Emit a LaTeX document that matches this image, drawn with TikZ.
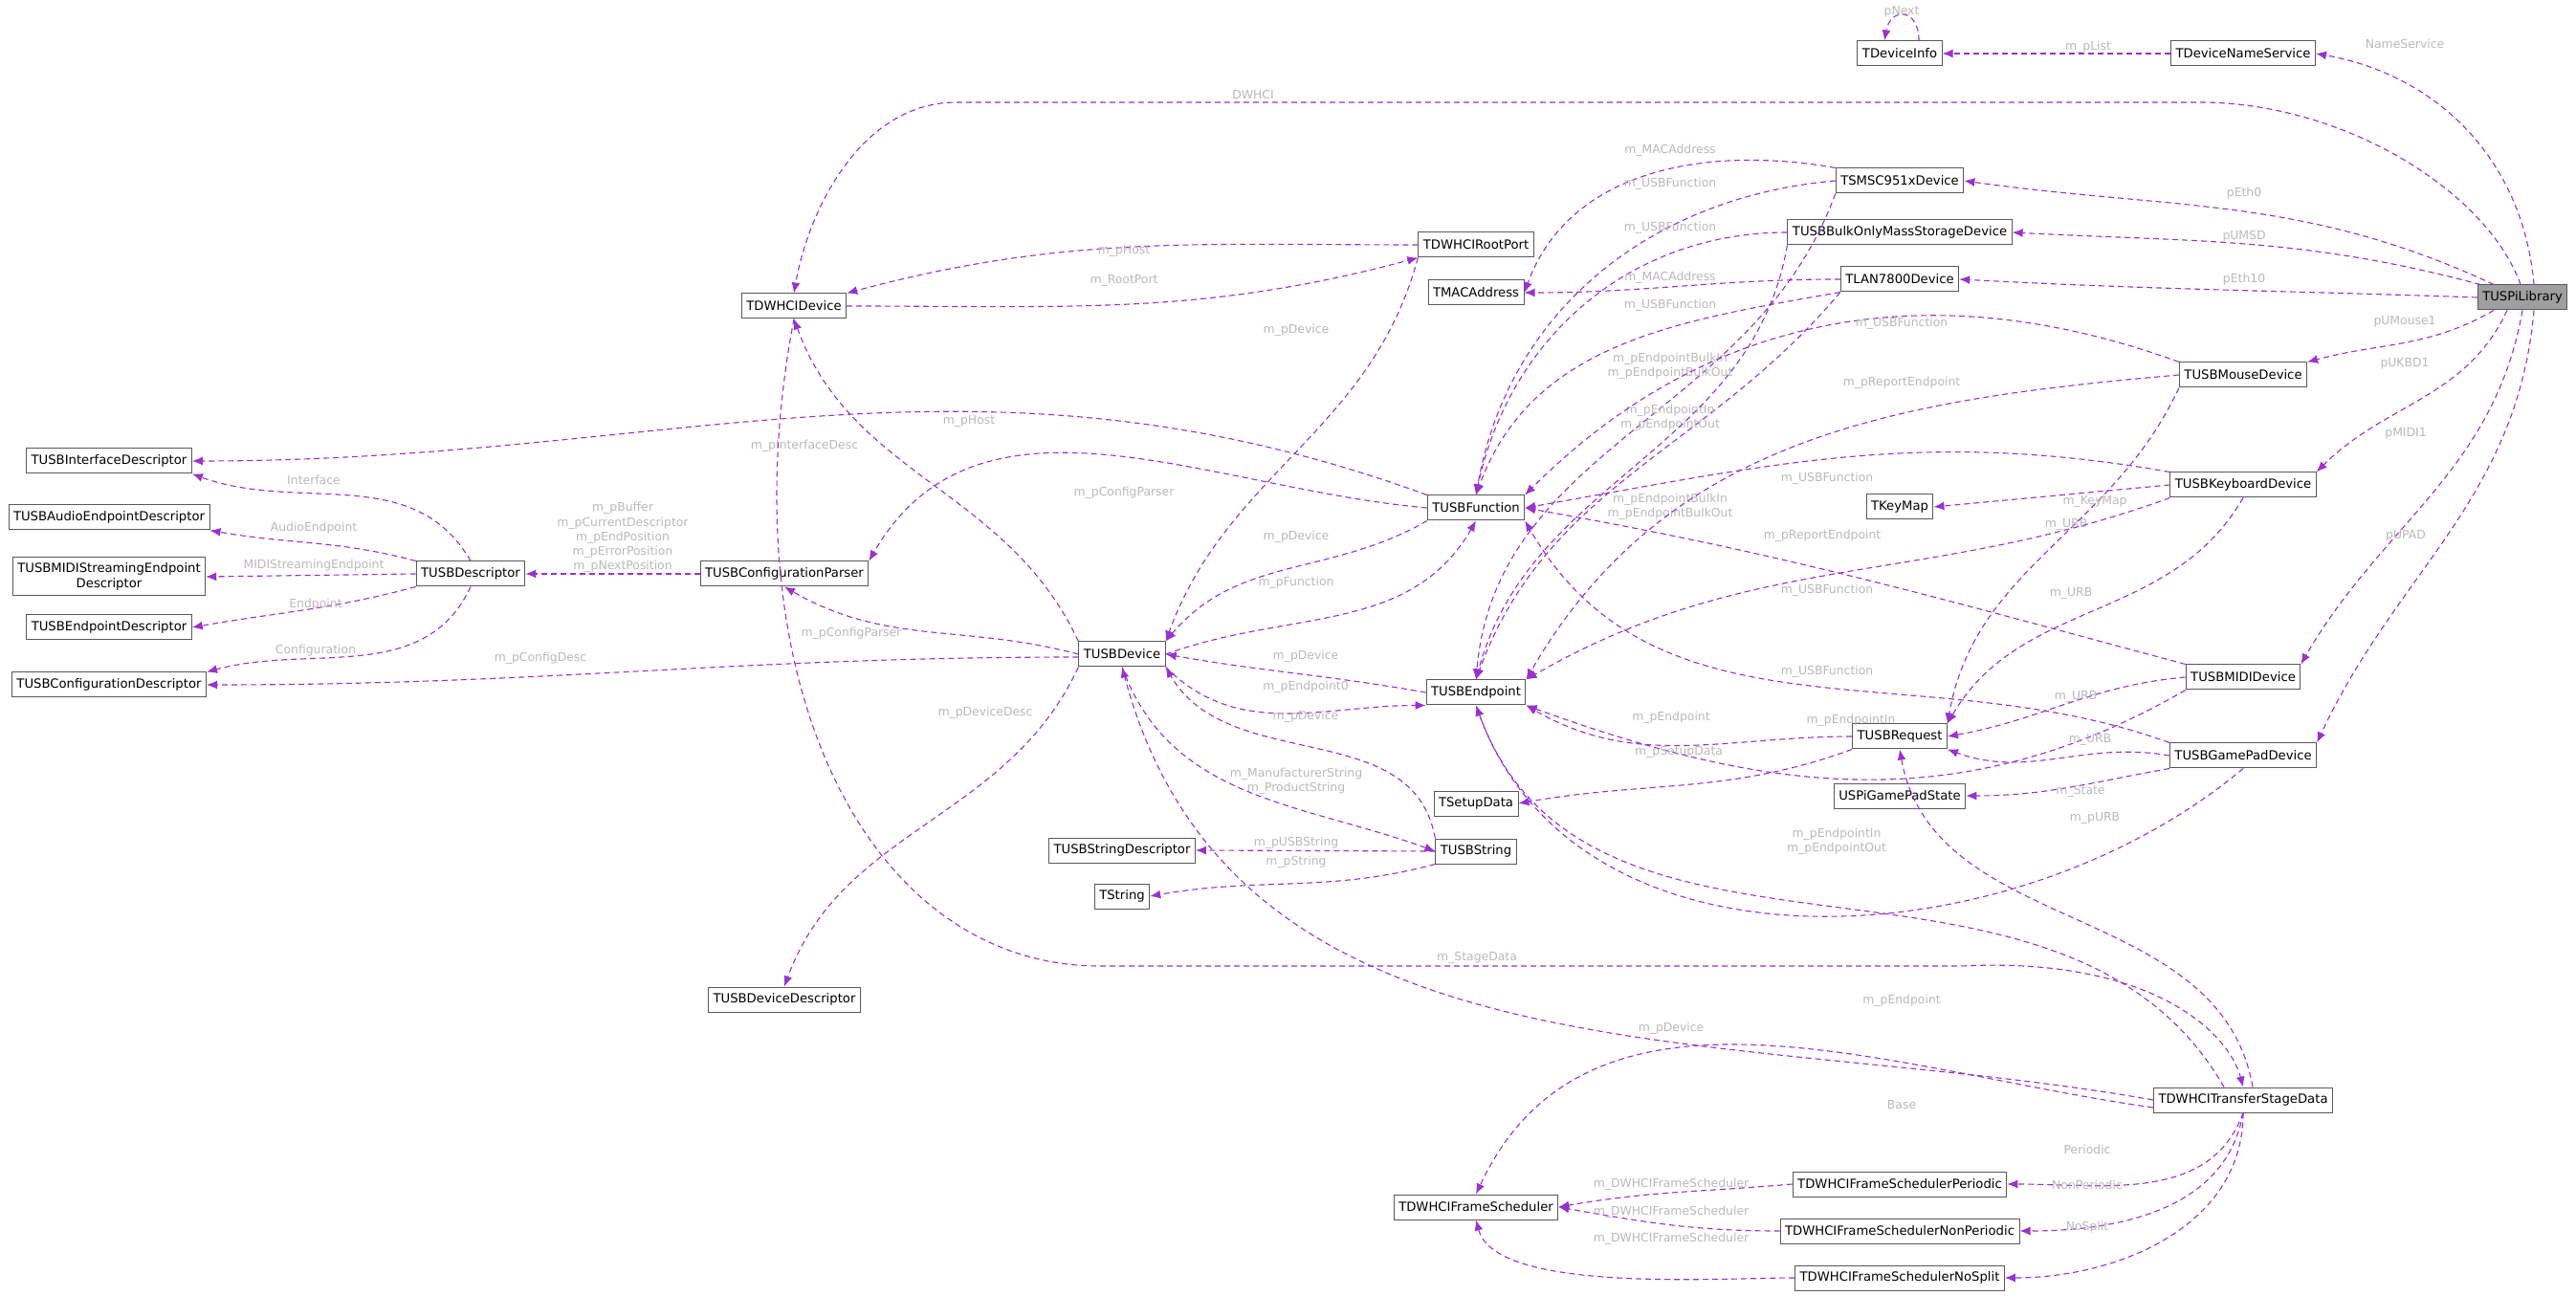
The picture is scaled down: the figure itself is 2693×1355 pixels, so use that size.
\documentclass[tikz,border=0pt]{standalone}
\usepackage{fontspec}
\setsansfont{DejaVu Sans}
\usetikzlibrary{arrows.meta}
\definecolor{relcol}{HTML}{9A32CD}
\begin{document}
\begin{tikzpicture}[x=0.25pt,y=-0.25pt,
    cls/.style={draw=gray!70!black,line width=0.25pt,fill=white,font=\sffamily\fontsize{3.3}{3.9}\selectfont,minimum height=6.5pt,inner xsep=1.25pt,inner ysep=0.5pt,align=center},
    rel/.style={draw=relcol,line width=0.28pt,dash pattern=on 1.5pt off 1pt,-{Latex[length=2.75pt,width=2.25pt]}},
    lbl/.style={font=\sffamily\fontsize{3.1}{3.8}\selectfont,text=gray!55,align=center}]
        \useasboundingbox (0,0) rectangle (2693,1355);
        % classes
        \node[cls,fill=gray!75] (lib) at (2637,311) {TUSPiLibrary};
        \node[cls] (dns) at (2345,56) {TDeviceNameService};
        \node[cls] (dinfo) at (1986,56) {TDeviceInfo};
        \node[cls] (smsc) at (1986,189) {TSMSC951xDevice};
        \node[cls] (bulk) at (1986,243) {TUSBBulkOnlyMassStorageDevice};
        \node[cls] (lan) at (1986,292) {TLAN7800Device};
        \node[cls] (mouse) at (2345,392) {TUSBMouseDevice};
        \node[cls] (kbd) at (2345,507) {TUSBKeyboardDevice};
        \node[cls] (keymap) at (1986,530) {TKeyMap};
        \node[cls] (midi) at (2345,708) {TUSBMIDIDevice};
        \node[cls] (pad) at (2345,790) {TUSBGamePadDevice};
        \node[cls] (ureq) at (1986,770) {TUSBRequest};
        \node[cls] (gps) at (1986,832) {USPiGamePadState};
        \node[cls] (rp) at (1543,256) {TDWHCIRootPort};
        \node[cls] (mac) at (1543,306) {TMACAddress};
        \node[cls] (ufun) at (1543,531) {TUSBFunction};
        \node[cls] (uep) at (1543,724) {TUSBEndpoint};
        \node[cls] (setup) at (1543,840) {TSetupData};
        \node[cls] (ustr) at (1543,890) {TUSBString};
        \node[cls] (dwd) at (830,320) {TDWHCIDevice};
        \node[cls] (cparser) at (820,600) {TUSBConfigurationParser};
        \node[cls] (ddesc) at (820,1045) {TUSBDeviceDescriptor};
        \node[cls] (udev) at (1173,684) {TUSBDevice};
        \node[cls] (sdesc) at (1173,889) {TUSBStringDescriptor};
        \node[cls] (tstr) at (1173,937) {TString};
        \node[cls] (udesc) at (492,600) {TUSBDescriptor};
        \node[cls] (ifd) at (114,482) {TUSBInterfaceDescriptor};
        \node[cls] (aed) at (114,541) {TUSBAudioEndpointDescriptor};
        \node[cls,minimum height=10pt] (msd) at (114,603) {TUSBMIDIStreamingEndpoint\\Descriptor};
        \node[cls] (epd) at (114,656) {TUSBEndpointDescriptor};
        \node[cls] (cdesc) at (114,716) {TUSBConfigurationDescriptor};
        \node[cls] (tsd) at (2345,1150) {TDWHCITransferStageData};
        \node[cls] (fs) at (1543,1262) {TDWHCIFrameScheduler};
        \node[cls] (per) at (1986,1238) {TDWHCIFrameSchedulerPeriodic};
        \node[cls] (nper) at (1986,1287) {TDWHCIFrameSchedulerNonPeriodic};
        \node[cls] (nos) at (1986,1336) {TDWHCIFrameSchedulerNoSplit};
        % library members
        \draw[rel] ([xshift=3pt]lib.north) to[out=95,in=-10] (dns.east) node[lbl] at (2514,46) {NameService};
        \draw[rel] (dns.west) -- (dinfo.east) node[lbl] at (2183,49) {m\_pList};
        \draw[rel] ([xshift=5pt]dinfo.north) to[out=90,in=80,looseness=2.5] ([xshift=-4pt]dinfo.north) node[lbl] at (1988,12) {pNext};
        \draw[rel] ([xshift=-0.5pt]lib.north) .. controls (2600,200) and (2450,107) .. (2300,107) -- (1000,107) .. controls (900,107) and (845,220) .. (dwd.north) node[lbl] at (1310,99) {DWHCI};
        \draw[rel] ([xshift=-7.5pt]lib.north) to[out=155,in=-8] (smsc.east) node[lbl] at (2346,202) {pEth0};
        \draw[rel] ([xshift=-11pt]lib.north) to[out=165,in=-3] (bulk.east) node[lbl] at (2346,247) {pUMSD};
        \draw[rel] (lib.west) to[out=178,in=-3] (lan.east) node[lbl] at (2346,292) {pEth10};
        \draw[rel] ([xshift=-7.5pt]lib.south) to[out=-150,in=15] (mouse.north east) node[lbl] at (2514,336) {pUMouse1};
        \draw[rel] ([xshift=-4pt]lib.south) to[out=-115,in=45] (kbd.north east) node[lbl] at (2514,380) {pUKBD1};
        \draw[rel] (lib.south) to[out=-100,in=60] (midi.north east) node[lbl] at (2515,453) {pMIDI1};
        \draw[rel] ([xshift=3pt]lib.south) to[out=-95,in=65] (pad.north east) node[lbl] at (2515,560) {pUPAD};
        % host side
        \draw[rel] (rp.west) to[out=180,in=15] (dwd.north east) node[lbl] at (1175,262) {m\_pHost};
        \draw[rel] (dwd.east) to[out=0,in=195] (rp.south west) node[lbl] at (1175,293) {m\_RootPort};
        \draw[rel] (rp.south west) to[out=-105,in=70] (udev.north east) node[lbl] at (1355,345) {m\_pDevice};
        % device drivers
        \draw[rel] (smsc.north west) to[out=170,in=70] (mac.east) node[lbl] at (1746,157) {m\_MACAddress};
        \draw[rel] (smsc.west) to[out=185,in=80] (ufun.north) node[lbl] at (1746,192) {m\_USBFunction};
        \draw[rel] (bulk.west) to[out=180,in=78] (ufun.north) node[lbl] at (1746,238) {m\_USBFunction};
        \draw[rel] (lan.west) to[out=180,in=0] (mac.east) node[lbl] at (1746,290) {m\_MACAddress};
        \draw[rel] (lan.south west) to[out=190,in=70] (ufun.north) node[lbl] at (1746,319) {m\_USBFunction};
        \draw[rel] (smsc.south west) to[out=-110,in=85] (uep.north) node[lbl] at (1746,383) {m\_pEndpointBulkIn\\m\_pEndpointBulkOut};
        \draw[rel] (lan.south west) to[out=-130,in=70] (uep.north) node[lbl] at (1746,437) {m\_pEndpointIn\\m\_pEndpointOut};
        \draw[rel] (bulk.south west) to[out=-100,in=75] (uep.north) node[lbl] at (1746,530) {m\_pEndpointBulkIn\\m\_pEndpointBulkOut};
        \draw[rel] (mouse.north west) to[out=160,in=45] (ufun.north east) node[lbl] at (1988,338) {m\_USBFunction};
        \draw[rel] (mouse.west) to[out=185,in=60] (uep.north east) node[lbl] at (1988,400) {m\_pReportEndpoint};
        \draw[rel] (mouse.south west) to[out=-115,in=80] (ureq.north east) node[lbl] at (2160,548) {m\_URB};
        \draw[rel] (kbd.north west) to[out=170,in=10] (ufun.east) node[lbl] at (1910,500) {m\_USBFunction};
        \draw[rel] (kbd.west) -- (keymap.east) node[lbl] at (2190,524) {m\_KeyMap};
        \draw[rel] (kbd.south west) to[out=-160,in=30] (uep.north east) node[lbl] at (1905,560) {m\_pReportEndpoint};
        \draw[rel] (kbd.south) to[out=-120,in=60] (ureq.north east) node[lbl] at (2165,620) {m\_URB};
        \draw[rel] (midi.north west) to[out=165,in=-10] (ufun.east) node[lbl] at (1910,617) {m\_USBFunction};
        \draw[rel] (midi.west) to[out=185,in=10] (ureq.east) node[lbl] at (2170,728) {m\_URB};
        \draw[rel] (midi.south west) to[out=-150,in=-20] (uep.south east) node[lbl] at (1935,753) {m\_pEndpointIn};
        \draw[rel] (pad.north west) to[out=160,in=-60] (ufun.south east) node[lbl] at (1910,702) {m\_USBFunction};
        \draw[rel] (pad.west) to[out=170,in=-20] (ureq.south east) node[lbl] at (2185,773) {m\_URB};
        \draw[rel] (pad.south west) to[out=-170,in=0] (gps.east) node[lbl] at (2175,827) {m\_State};
        \draw[rel] (pad.south) to[out=-140,in=-70] (uep.south) node[lbl] at (1920,880) {m\_pEndpointIn\\m\_pEndpointOut};
        % usb core
        \draw[rel] (ufun.north west) to[out=160,in=0] (ifd.east) node[lbl] at (841,466) {m\_pInterfaceDesc};
        \draw[rel] (ufun.west) to[out=175,in=60] (cparser.north east) node[lbl] at (1175,515) {m\_pConfigParser};
        \draw[rel] (ufun.south west) to[out=-150,in=50] (udev.north east) node[lbl] at (1355,561) {m\_pDevice};
        \draw[rel] (udev.east) to[out=20,in=-120] (ufun.south) node[lbl] at (1355,609) {m\_pFunction};
        \draw[rel] (udesc.north) to[out=120,in=-20] (ifd.south east) node[lbl] at (328,502) {Interface};
        \draw[rel] (udesc.north west) to[out=165,in=-10] (aed.south east) node[lbl] at (328,552) {AudioEndpoint};
        \draw[rel] (udesc.west) -- (msd.east) node[lbl] at (328,591) {MIDIStreamingEndpoint};
        \draw[rel] (udesc.south west) to[out=-165,in=10] (epd.east) node[lbl] at (330,632) {Endpoint};
        \draw[rel] (udesc.south) to[out=-115,in=15] (cdesc.north east) node[lbl] at (330,680) {Configuration};
        \draw[rel] (cparser.west) -- (udesc.east) node[lbl] at (651,562) {m\_pBuffer\\m\_pCurrentDescriptor\\m\_pEndPosition\\m\_pErrorPosition\\m\_pNextPosition};
        \draw[rel] (udev.north west) to[out=115,in=-70] (dwd.south) node[lbl] at (1013,440) {m\_pHost};
        \draw[rel] (udev.west) to[out=165,in=-30] (cparser.south) node[lbl] at (890,662) {m\_pConfigParser};
        \draw[rel] ([yshift=-0.75pt]udev.west) to[out=180,in=0] (cdesc.east) node[lbl] at (565,688) {m\_pConfigDesc};
        \draw[rel] (udev.south west) to[out=-115,in=70] (ddesc.north) node[lbl] at (1030,745) {m\_pDeviceDesc};
        \draw[rel] (uep.west) to[out=170,in=-10] (udev.east) node[lbl] at (1365,686) {m\_pDevice};
        \draw[rel] (udev.south east) to[out=-45,in=180] (uep.south west) node[lbl] at (1365,718) {m\_pEndpoint0};
        \draw[rel] (ustr.north west) to[out=100,in=-60] (udev.south east) node[lbl] at (1365,749) {m\_pDevice};
        \draw[rel] (udev.south) to[out=-70,in=160] (ustr.west) node[lbl] at (1355,817) {m\_ManufacturerString\\m\_ProductString};
        \draw[rel] (ustr.west) -- (sdesc.east) node[lbl] at (1355,881) {m\_pUSBString};
        \draw[rel] (ustr.south west) to[out=-165,in=10] (tstr.east) node[lbl] at (1355,901) {m\_pString};
        \draw[rel] (ureq.west) to[out=180,in=-30] (uep.south east) node[lbl] at (1747,750) {m\_pEndpoint};
        \draw[rel] (ureq.south west) to[out=-160,in=10] (setup.east) node[lbl] at (1755,786) {m\_pSetupData};
        % transfer stage data
        \draw[rel] (dwd.south) .. controls (760,700) and (900,1010) .. (1150,1010) -- (2050,1010) .. controls (2250,1000) and (2330,1080) .. (tsd.north) node[lbl] at (1544,1001) {m\_StageData};
        \draw[rel] ([xshift=-5pt]tsd.north) to[out=120,in=-70] (uep.south) node[lbl] at (1988,1046) {m\_pEndpoint};
        \draw[rel] (tsd.west) to[out=170,in=-75] (udev.south) node[lbl] at (1747,1075) {m\_pDevice};
        \draw[rel] ([xshift=2.5pt]tsd.north) to[out=100,in=-80] (ureq.south) node[lbl] at (2190,855) {m\_pURB};
        \draw[rel] ([yshift=-2pt]tsd.west) to[out=172,in=65] (fs.north) node[lbl] at (1988,1155) {Base};
        \draw[rel] (tsd.south) to[out=-110,in=0] (per.east) node[lbl] at (2182,1202) {Periodic};
        \draw[rel] (tsd.south) to[out=-100,in=0] (nper.east) node[lbl] at (2182,1239) {NonPeriodic};
        \draw[rel] (tsd.south) to[out=-90,in=0] (nos.east) node[lbl] at (2182,1283) {NoSplit};
        \draw[rel] (per.west) to[out=185,in=10] (fs.east) node[lbl] at (1747,1238) {m\_DWHCIFrameScheduler};
        \draw[rel] (nper.west) to[out=180,in=-10] (fs.east) node[lbl] at (1747,1267) {m\_DWHCIFrameScheduler};
        \draw[rel] (nos.west) to[out=180,in=-75,looseness=0.6] (fs.south) node[lbl] at (1747,1295) {m\_DWHCIFrameScheduler};
\end{tikzpicture}
\end{document}
